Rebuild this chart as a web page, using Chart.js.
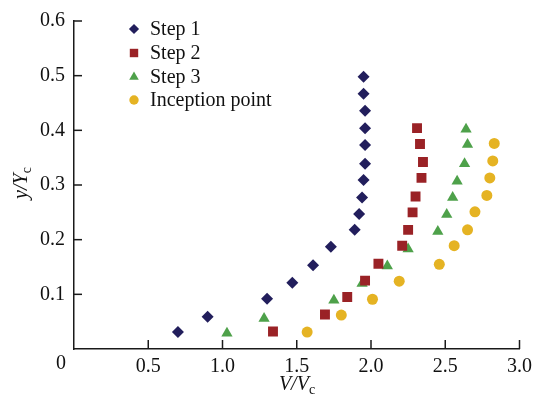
<!DOCTYPE html>
<html>
<head>
<meta charset="utf-8">
<script src="https://cdn.jsdelivr.net/npm/chart.js@4.4.1/dist/chart.umd.min.js"></script>
<style>
html,body{margin:0;padding:0;background:#fff;}
#wrap{width:538px;height:401px;position:relative;}
</style>
</head>
<body>
<div id="wrap"><canvas id="c" width="538" height="401"></canvas></div>
<script>
const seriesNames = ['Step 1', 'Step 2', 'Step 3', 'Inception point'];
const step1X = [0.70,0.90,1.30,1.47,1.61,1.73,1.89,1.92,1.94,1.95,1.96,1.96,1.96,1.96,1.95,1.95];
const step1Y = [0.031,0.059,0.092,0.121,0.153,0.187,0.218,0.247,0.277,0.309,0.339,0.373,0.404,0.436,0.467,0.498];
const step2X = [1.34,1.69,1.84,1.96,2.05,2.21,2.25,2.28,2.30,2.34,2.35,2.33,2.31];
const step2Y = [0.032,0.063,0.095,0.125,0.156,0.189,0.218,0.250,0.279,0.313,0.342,0.375,0.404];
const step3X = [1.03,1.28,1.75,1.94,2.11,2.25,2.45,2.51,2.55,2.58,2.63,2.65,2.64];
const step3Y = [0.029,0.056,0.089,0.120,0.152,0.183,0.215,0.246,0.277,0.307,0.339,0.374,0.402];
const inceptionX = [1.57,1.80,2.01,2.19,2.46,2.56,2.65,2.70,2.78,2.80,2.82,2.83];
const inceptionY = [0.031,0.062,0.091,0.124,0.155,0.189,0.218,0.251,0.281,0.313,0.344,0.376];
const xTicks = [0, 0.5, 1.0, 1.5, 2.0, 2.5, 3.0];
const yTicks = [0, 0.1, 0.2, 0.3, 0.4, 0.5, 0.6];

const FONT = '"Liberation Serif", "DejaVu Serif", serif';
const AXIS = '#1a1a1a';

function pts(xs, ys){ return xs.map((x,i)=>({x:x, y:ys[i]})); }

const styles = [
  {color:'#221e5c', shape:'rectRot', r:6},
  {color:'#9a2226', shape:'rect', r:7},
  {color:'#4ea14a', shape:'triangle', r:6.5},
  {color:'#e5b323', shape:'circle', r:5.5}
];
const seriesData = [pts(step1X,step1Y), pts(step2X,step2Y), pts(step3X,step3Y), pts(inceptionX,inceptionY)];

function drawShape(ctx, shape, x, y, r, color){
  ctx.save();
  ctx.fillStyle = color;
  ctx.beginPath();
  if (shape === 'rectRot'){
    ctx.moveTo(x, y-r); ctx.lineTo(x+r, y); ctx.lineTo(x, y+r); ctx.lineTo(x-r, y); ctx.closePath();
  } else if (shape === 'rect'){
    const s = r*Math.SQRT1_2; ctx.rect(x-s, y-s, 2*s, 2*s);
  } else if (shape === 'triangle'){
    for (let k=0;k<3;k++){ const a = -Math.PI/2 + k*2*Math.PI/3; const px=x+Math.cos(a)*r, py=y+Math.sin(a)*r; if(k===0)ctx.moveTo(px,py); else ctx.lineTo(px,py);} ctx.closePath();
  } else {
    ctx.arc(x, y, r, 0, Math.PI*2);
  }
  ctx.fill();
  ctx.restore();
}

const decor = {
  id: 'decor',
  afterDraw(chart){
    const ctx = chart.ctx;
    const xs = chart.scales.x, ys = chart.scales.y;
    const ca = chart.chartArea;
    ctx.save();
    ctx.strokeStyle = AXIS; ctx.lineWidth = 1.5;
    // inward ticks
    xTicks.forEach(v=>{ if(v===0) return; const px = xs.getPixelForValue(v); ctx.beginPath(); ctx.moveTo(px, ca.bottom); ctx.lineTo(px, ca.bottom-9); ctx.stroke(); });
    yTicks.forEach(v=>{ if(v===0) return; const py = ys.getPixelForValue(v); ctx.beginPath(); ctx.moveTo(ca.left, py); ctx.lineTo(ca.left+8, py); ctx.stroke(); });
    // origin label
    ctx.fillStyle = '#111';
    ctx.font = '20px ' + FONT;
    ctx.textAlign = 'center'; ctx.textBaseline = 'middle';
    ctx.fillText('0', ca.left - 13, ca.bottom + 15);
    // x title V/Vc
    ctx.textAlign = 'left'; ctx.textBaseline = 'alphabetic';
    ctx.font = 'italic 20px ' + FONT;
    const main = 'V/V';
    const w1 = ctx.measureText(main).width;
    ctx.font = '14px ' + FONT;
    const w2 = ctx.measureText('c').width;
    let sx = 297 - (w1+w2)/2;
    ctx.font = 'italic 20px ' + FONT;
    ctx.fillText(main, sx, 390);
    ctx.font = '14px ' + FONT;
    ctx.fillText('c', sx + w1, 394);
    // y title y/Yc rotated
    ctx.save();
    ctx.translate(27, 183);
    ctx.rotate(-Math.PI/2);
    ctx.font = 'italic 20px ' + FONT;
    const m2 = 'y/Y';
    const v1 = ctx.measureText(m2).width;
    ctx.font = '14px ' + FONT;
    const v2 = ctx.measureText('c').width;
    const sy = -(v1+v2)/2;
    ctx.font = 'italic 20px ' + FONT;
    ctx.fillText(m2, sy, 0);
    ctx.font = '14px ' + FONT;
    ctx.fillText('c', sy + v1, 4);
    ctx.restore();
    // legend
    const ly = [29, 53, 77, 100];
    seriesNames.forEach((n,i)=>{
      const st = styles[i];
      drawShape(ctx, st.shape, 134, ly[i], st.r*0.85, st.color);
      ctx.fillStyle = '#111';
      ctx.font = '20px ' + FONT;
      ctx.textAlign = 'left'; ctx.textBaseline = 'middle';
      ctx.fillText(n, 150, ly[i]+1);
    });
    ctx.restore();
  }
};

new Chart(document.getElementById('c'), {
  type: 'scatter',
  data: {
    datasets: seriesData.map((d,i)=>({
      label: seriesNames[i],
      data: d,
      pointStyle: styles[i].shape,
      pointRadius: styles[i].r,
      pointHoverRadius: styles[i].r,
      backgroundColor: styles[i].color,
      borderColor: styles[i].color,
      borderWidth: 0,
      showLine: false
    }))
  },
  options: {
    responsive: false,
    animation: false,
    devicePixelRatio: 1,
    layout: { padding: { top: 19, right: 18, left: 0, bottom: 0 } },
    plugins: { legend: { display: false }, tooltip: { enabled: false } },
    scales: {
      x: {
        type: 'linear', min: 0, max: 3.0,
        afterBuildTicks: s => { s.ticks = xTicks.map(v=>({value:v})); },
        afterFit: s => { s.height = 52; },
        grid: { display: true, drawOnChartArea: false, drawTicks: false },
        border: { display: true, color: AXIS, width: 1.5 },
        ticks: {
          padding: 6, color: '#111', font: { family: FONT, size: 20 },
          maxRotation: 0, autoSkip: false,
          callback: v => v === 0 ? '' : v.toFixed(1)
        }
      },
      y: {
        type: 'linear', min: 0, max: 0.6,
        afterBuildTicks: s => { s.ticks = yTicks.map(v=>({value:v})); },
        afterFit: s => { s.width = 74; },
        grid: { display: true, drawOnChartArea: false, drawTicks: false },
        border: { display: true, color: AXIS, width: 1.5 },
        ticks: {
          padding: 9, color: '#111', font: { family: FONT, size: 20 },
          autoSkip: false,
          callback: v => v === 0 ? '' : v.toFixed(1)
        }
      }
    }
  },
  plugins: [decor]
});
</script>
</body>
</html>
